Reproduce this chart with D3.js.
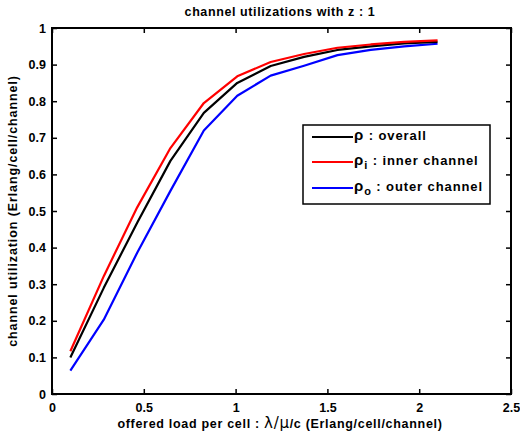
<!DOCTYPE html>
<html><head><meta charset="utf-8">
<script src="https://d3js.org/d3.v7.min.js"></script>
<style>body{margin:0;background:#fff}svg{display:block}text{font-family:"Liberation Sans",Arial,sans-serif;font-weight:bold}</style>
</head><body>
<script>
const loads = [0.1, 0.282, 0.464, 0.645, 0.827, 1.009, 1.191, 1.373, 1.555, 1.736, 1.918, 2.1];
const overall = [0.100, 0.290, 0.468, 0.637, 0.768, 0.850, 0.896, 0.921, 0.940, 0.950, 0.958, 0.962];
const inner   = [0.117, 0.322, 0.510, 0.672, 0.795, 0.868, 0.907, 0.929, 0.946, 0.955, 0.962, 0.966];
const outer   = [0.064, 0.203, 0.386, 0.555, 0.720, 0.815, 0.870, 0.897, 0.926, 0.940, 0.950, 0.957];
const xTicks = [0, 0.5, 1, 1.5, 2, 2.5];
const yTicks = [0, 0.1, 0.2, 0.3, 0.4, 0.5, 0.6, 0.7, 0.8, 0.9, 1];
const seriesColors = ["#000000", "#ff0000", "#0000ff"];

const W = 520, H = 436;
const m = {l: 52, r: 9, t: 28, b: 42};
const svg = d3.select("body").append("svg").attr("width", W).attr("height", H);
const x = d3.scaleLinear().domain([0, 2.5]).range([m.l, W - m.r]);
const y = d3.scaleLinear().domain([0, 1]).range([H - m.b, m.t]);
const fs = 12.5;
const ls = "0.6px";

const gx = svg.append("g").attr("transform", `translate(0,${H - m.b})`)
  .call(d3.axisBottom(x).tickValues(xTicks).tickSizeInner(-5).tickSizeOuter(0).tickPadding(9).tickFormat(d3.format("")));
const gxt = svg.append("g").attr("transform", `translate(0,${m.t})`)
  .call(d3.axisTop(x).tickValues(xTicks).tickSizeInner(-5).tickSizeOuter(0).tickFormat(""));
const gy = svg.append("g").attr("transform", `translate(${m.l},0)`)
  .call(d3.axisLeft(y).tickValues(yTicks).tickSizeInner(-5).tickSizeOuter(0).tickPadding(6).tickFormat(d3.format("")));
const gyr = svg.append("g").attr("transform", `translate(${W - m.r},0)`)
  .call(d3.axisRight(y).tickValues(yTicks).tickSizeInner(-5).tickSizeOuter(0).tickFormat(""));
[gx, gxt, gy, gyr].forEach(g => {
  g.select(".domain").remove();
  g.selectAll(".tick line").attr("stroke", "#000").attr("stroke-width", 1.5);
  g.selectAll("text").attr("font-size", fs).attr("font-family", "Liberation Sans, Arial, sans-serif").attr("font-weight", "bold").attr("fill", "#000");
});
svg.append("rect").attr("x", m.l).attr("y", m.t).attr("width", W - m.r - m.l).attr("height", H - m.b - m.t)
  .attr("fill", "none").attr("stroke", "#000").attr("stroke-width", 2);

const data = [overall, inner, outer];
const line = d3.line().x((d, i) => x(loads[i])).y(d => y(d));
[2, 0, 1].forEach(k => {
  svg.append("path").datum(data[k]).attr("d", line).attr("fill", "none")
    .attr("stroke", seriesColors[k]).attr("stroke-width", 2.2).attr("stroke-linejoin", "round");
});

svg.append("text").attr("x", 280).attr("y", 16).attr("text-anchor", "middle")
  .attr("font-size", 12.5).attr("letter-spacing", "0.6px").text("channel utilizations with z : 1");
const xl = svg.append("text").attr("x", 280).attr("y", 428).attr("text-anchor", "middle").attr("font-size", fs).attr("letter-spacing", "0.7px");
xl.append("tspan").text("offered load per cell : ");
xl.append("tspan").attr("font-family", "DejaVu Sans").attr("font-weight", "normal").attr("font-size", 15).text("λ/μ");
xl.append("tspan").text("/c (Erlang/cell/channel)");
svg.append("text").attr("transform", `translate(17,${(m.t + H - m.b) / 2}) rotate(-90)`).attr("text-anchor", "middle")
  .attr("font-size", fs).attr("letter-spacing", "0.9px").text("channel utilization (Erlang/cell/channel)");

const lg = svg.append("g");
lg.append("rect").attr("x", 303).attr("y", 125).attr("width", 187).attr("height", 79)
  .attr("fill", "#fff").attr("stroke", "#000").attr("stroke-width", 1.5);
const subs = ["", "i", "o"];
const labs = [" : overall", " : inner channel", " : outer channel"];
const ly = [137, 162, 188];
[0, 1, 2].forEach(k => {
  lg.append("line").attr("x1", 312).attr("x2", 353).attr("y1", ly[k]).attr("y2", ly[k])
    .attr("stroke", seriesColors[k]).attr("stroke-width", 2);
  const t = lg.append("text").attr("x", 354).attr("y", ly[k] + 3).attr("font-size", 13).attr("letter-spacing", "0.9px");
  t.append("tspan").attr("font-size", 15).text("ρ");
  if (subs[k]) t.append("tspan").attr("dy", 4).attr("font-size", 11).text(subs[k]);
  t.append("tspan").attr("dy", subs[k] ? -4 : 0).text(labs[k]);
});
</script>
</body></html>
